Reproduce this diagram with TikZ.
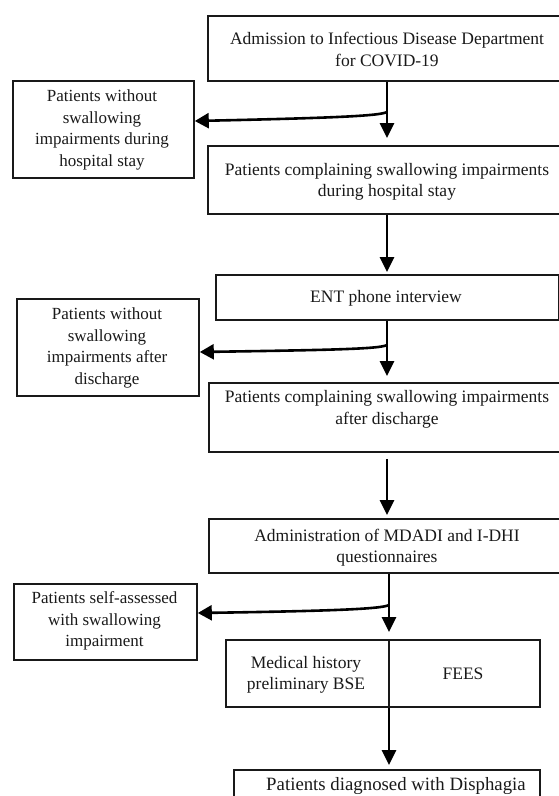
\documentclass[tikz,border=0pt]{standalone}
\usepackage{fontspec}
\setmainfont{Liberation Serif}
\usetikzlibrary{arrows.meta}
\begin{document}
\begin{tikzpicture}[x=1pt,y=-1pt,
  box/.style={draw=black!90, line width=1.8pt, inner sep=0pt, anchor=north west},
  thinbox/.style={box, line width=1.5pt},
  txt/.style={align=center, inner sep=0pt, font=\fontsize{17}{21.5}\selectfont, text=black!90},
  rtxt/.style={txt, font=\fontsize{17.5}{21.5}\selectfont},
  arr/.style={draw=black, line width=2.6pt, -{Triangle[length=15pt,width=14pt]}},
  branch/.style={draw=black, line width=2.6pt, -{Triangle[length=14pt,width=15pt]}},
]
\useasboundingbox (0,0) rectangle (559,796);
\clip (0,0) rectangle (559,796);

% boxes
\node[box, minimum width=363pt, minimum height=65pt] (A) at (207,15) {};
\node[box, minimum width=181pt, minimum height=97pt] (L1) at (12,80) {};
\node[box, minimum width=363pt, minimum height=68pt] (B2) at (207,145) {};
\node[box, minimum width=343pt, minimum height=45pt] (ENT) at (215,274) {};
\node[box, minimum width=182pt, minimum height=97pt] (L2) at (16,298) {};
\node[box, minimum width=362pt, minimum height=69pt] (B3) at (208,382) {};
\node[box, minimum width=362pt, minimum height=54pt] (M) at (208,518) {};
\node[box, minimum width=183pt, minimum height=76pt] (L3) at (13,583) {};
\node[thinbox, minimum width=314pt, minimum height=67pt] (B5) at (225,639) {};
\node[thinbox, minimum width=306pt, minimum height=60pt] (B6) at (233,769) {};

% texts
\node[rtxt] (tA) at (387,49.5) {Admission to Infectious Disease Department\\for COVID-19};
\node[txt] (tL1) at (102,130) {Patients without\\swallowing\\impairments during\\hospital stay};
\node[rtxt] (tB2) at (387,182) {Patients complaining swallowing impairments\\during hospital stay};
\node[rtxt] (tENT) at (386,298.7) {ENT phone interview};
\node[txt] (tL2) at (107,348) {Patients without\\swallowing\\impairments after\\discharge};
\node[rtxt] (tB3) at (387,409.5) {Patients complaining swallowing impairments\\after discharge};
\node[rtxt] (tM) at (387,547.7) {Administration of MDADI and I-DHI\\questionnaires};
\node[txt] (tL3) at (104.5,621) {Patients self-assessed\\with swallowing\\impairment};
\node[rtxt] (tB5a) at (306,675) {Medical history\\preliminary BSE};
\node[rtxt] (tB5b) at (463,674) {FEES};
\node[txt, font=\fontsize{18.8}{22}\selectfont] (tB6) at (396,786) {Patients diagnosed with Disphagia};

% column lines
\coordinate (c1) at (387,0);
\coordinate (c2) at (389,0);
\coordinate (j1) at (387,112);
\coordinate (j2) at (387,345);
\coordinate (j3) at (389,605);

% divider in B5
\draw[line width=1.5pt, draw=black!90] (B5.north -| c2) -- (B5.south -| c2);

% main arrows
\draw[arr] (A.south -| c1) -- ([yshift=7pt]B2.north -| c1);
\draw[arr] (B2.south -| c1) -- ([yshift=2pt]ENT.north -| c1);
\draw[arr] (ENT.south -| c1) -- ([yshift=6pt]B3.north -| c1);
\draw[arr] ([yshift=-6pt]B3.south -| c1) -- ([yshift=3pt]M.north -| c1);
\draw[arr] (M.south -| c2) -- ([yshift=7pt]B5.north -| c2);
\draw[arr] (B5.south -| c2) -- ([yshift=4pt]B6.north -| c2);

% branches
\draw[branch] (j1) .. controls (380,116) and (330,118) .. ([yshift=-41pt]L1.north east);
\draw[branch] (j2) .. controls (380,349) and (330,350) .. ([yshift=-54pt]L2.north east);
\draw[branch] (j3) .. controls (382,609) and (330,611) .. ([yshift=-30pt]L3.north east);
\end{tikzpicture}
\end{document}
